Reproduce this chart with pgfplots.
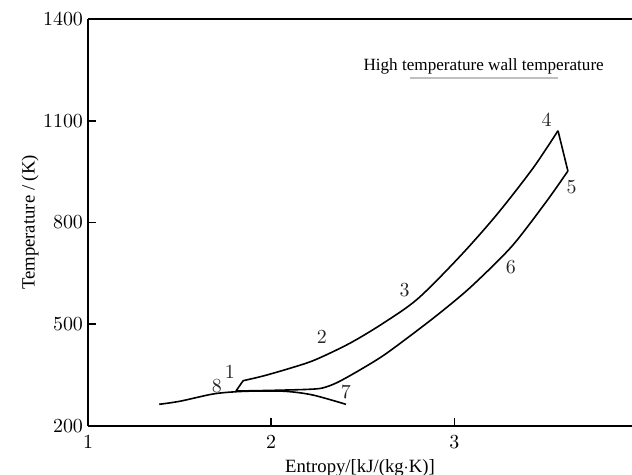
\documentclass[border=0pt]{standalone}
\usepackage{fontspec}
\setmainfont{Liberation Serif}
\usepackage{pgfplots}
\pgfplotsset{compat=1.18}
\begin{document}
\begin{tikzpicture}
\begin{axis}[
  at={(0,0)}, anchor=south west,
  scale only axis, width=272bp, height=203.5bp,
  xmin=1, xmax=3.97, ymin=200, ymax=1400,
  separate axis lines,
  axis x line*=box, axis y line*=left,
  axis line style={-, line width=0.9bp},
  xtick={1,2,3}, ytick={200,500,800,1100,1400},
  xtick pos=bottom,
  /pgf/number format/1000 sep={},
  tick align=inside, major tick length=4bp,
  tick style={black, line width=0.8bp},
  tick label style={font=\fontsize{10}{12}\selectfont},
  xticklabel style={yshift=-1.5bp},
  yticklabel style={xshift=1bp},
  xlabel={Entropy/[kJ/(kg$\cdot$K)]},
  ylabel={Temperature / (K)},
  label style={font=\fontsize{9.4}{11}\selectfont},
  xlabel style={at={(axis description cs:0.5,-0.1032)}, anchor=center},
  ylabel style={at={(axis description cs:-0.1066,0.5)}, anchor=center},
  clip=false,
]
% 8 -> 1
\addplot[black, line width=0.8bp] coordinates {(1.808,303.2) (1.847,333.6)};
% 1 -> 2 -> 3 -> 4
\addplot[black, line width=0.8bp, smooth, tension=0.5] coordinates {
(1.847,333.6) (1.956,347.4) (2.102,370.1) (2.238,394.6)
(2.429,443.8) (2.611,502.8) (2.80,575) (3.029,699.2)
(3.230,822.1) (3.429,959.8) (3.566,1070.6)};
% 4 -> 5
\addplot[black, line width=0.8bp] coordinates {(3.566,1070.6) (3.620,951.8)};
% 5 -> 6 -> 7 -> 8
\addplot[black, line width=0.8bp, smooth, tension=0.45] coordinates {
(3.620,951.8) (3.502,861.3) (3.312,728.6) (3.084,607) (2.884,517.5)
(2.630,414.3) (2.484,365.1) (2.36,328) (2.28,312) (2.20,308) (2.0,305) (1.811,303.2)};
% saturation dome
\addplot[black, line width=0.8bp, smooth, tension=0.5] coordinates {
(1.389,264.0) (1.502,273) (1.682,294.3) (1.811,301.1) (1.938,303.2)
(2.084,302.0) (2.227,291.4) (2.408,264.0)};
% point labels
\begin{scope}[font=\fontsize{10}{12}\selectfont, text=black!85]
\node at (axis cs:1.775,359) {$1$};
\node at (axis cs:2.277,462) {$2$};
\node at (axis cs:2.729,601) {$3$};
\node at (axis cs:3.504,1102) {$4$};
\node at (axis cs:3.640,905) {$5$};
\node at (axis cs:3.308,669) {$6$};
\node at (axis cs:2.408,300) {$7$};
\node at (axis cs:1.704,318) {$8$};
\end{scope}
% legend-like annotation
\node[font=\fontsize{8.6}{10}\selectfont] at (axis cs:3.16,1261) {High temperature wall temperature};
\draw[black!25, line width=0.9bp] (axis cs:2.757,1226) -- (axis cs:3.564,1226);
\end{axis}
\pgfresetboundingbox
\path (-44bp,-24.5bp) rectangle (272bp,213bp);
\end{tikzpicture}
\end{document}
